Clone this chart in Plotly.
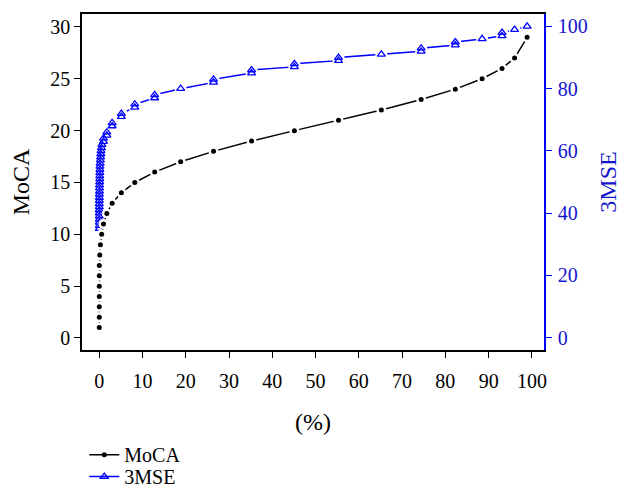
import plotly.graph_objects as go

# MoCA: score vs cumulative percent
moca_pct = [0.0, 0.0, 0.0, 0.0, 0.0, 0.0, 0.0, 0.1, 0.25, 0.55, 0.97, 1.74, 2.97,
            5.1, 8.2, 12.8, 18.8, 26.4, 35.2, 45.1, 55.3, 65.2, 74.4, 82.3, 88.5,
            93.1, 96.0, 98.9]
moca_score = [1, 2, 3, 4, 5, 6, 7, 8, 9, 10, 11, 12, 13, 14, 15, 16, 17, 18, 19,
              20, 21, 22, 23, 24, 25, 26, 27, 29]

# 3MSE: score vs cumulative percent
mse_pct = [0.0, 0.0, 0.0, 0.0, 0.0, 0.0, 0.0, 0.0, 0.0, 0.0, 0.02, 0.02, 0.05, 0.05,
           0.05, 0.08, 0.1, 0.1, 0.12, 0.15, 0.15, 0.2, 0.25, 0.3, 0.35, 0.4, 0.5, 0.6,
           0.97, 0.97, 1.74, 1.74, 2.97, 2.97, 5.1, 5.1, 8.2, 8.2, 12.8, 12.8, 18.8,
           26.4, 26.4, 35.2, 35.2, 45.1, 45.1, 55.3, 55.3, 65.2, 74.4, 74.4, 82.3,
           82.3, 88.5, 93.1, 93.1, 96.0, 98.9]
mse_score = [35, 36, 37, 38, 39, 40, 41, 42, 43, 44, 45, 46, 47, 48, 49, 50, 51, 52,
             53, 54, 55, 56, 57, 58, 59, 60, 61, 62, 63, 64, 65, 66, 68, 69, 71, 72,
             74, 75, 77, 78, 80, 82, 83, 85, 86, 87, 88, 89, 90, 91, 92, 93, 94, 95,
             96, 97, 98, 99, 100]

x_ticks = [0, 10, 20, 30, 40, 50, 60, 70, 80, 90, 100]
moca_ticks = [0, 5, 10, 15, 20, 25, 30]
mse_ticks = [0, 20, 40, 60, 80, 100]

BLUE = "#0000FF"
BLUE_TXT = "#1414CC"
FONT = "Liberation Serif"
FS = 20

fig = go.Figure()

# 3MSE on primary (right side) axis -> drawn below
fig.add_trace(go.Scatter(
    x=mse_pct, y=mse_score, name="3MSE", mode="lines+markers", yaxis="y",
    line=dict(color=BLUE, width=1.5), legend="legend2",
    marker=dict(symbol="triangle-up-open", size=7, color=BLUE, line=dict(width=1.3, color=BLUE))))
fig.add_trace(go.Scatter(
    x=mse_pct, y=mse_score, mode="markers", yaxis="y", showlegend=False, hoverinfo="skip",
    marker=dict(symbol="circle", size=12, color="white", line=dict(width=0))))
fig.add_trace(go.Scatter(
    x=mse_pct, y=mse_score, mode="markers", yaxis="y", showlegend=False,
    marker=dict(symbol="triangle-up-open", size=7, color=BLUE, line=dict(width=1.3, color=BLUE))))

# MoCA on overlaid left axis
fig.add_trace(go.Scatter(
    x=moca_pct, y=moca_score, name="MoCA", mode="lines+markers", yaxis="y2",
    line=dict(color="black", width=1.5), legend="legend",
    marker=dict(symbol="circle", size=5, color="black")))
fig.add_trace(go.Scatter(
    x=moca_pct, y=moca_score, mode="markers", yaxis="y2", showlegend=False, hoverinfo="skip",
    marker=dict(symbol="circle", size=10, color="white", line=dict(width=0))))
fig.add_trace(go.Scatter(
    x=moca_pct, y=moca_score, mode="markers", yaxis="y2", showlegend=False,
    marker=dict(symbol="circle", size=5, color="black")))

leg_common = dict(x=0.005, xanchor="left", yanchor="bottom", yref="container",
                  orientation="v", font=dict(size=FS, family=FONT),
                  bgcolor="rgba(0,0,0,0)", itemwidth=30, borderwidth=0)

fig.update_layout(
    width=632, height=496,
    margin=dict(l=82, r=88, t=14, b=146),
    paper_bgcolor="white", plot_bgcolor="white",
    font=dict(family=FONT, size=FS, color="black"),
    xaxis=dict(
        range=[-4.0, 102.8], tickvals=x_ticks, ticktext=[str(v) for v in x_ticks],
        showgrid=False, zeroline=False, showline=True, mirror=True, automargin=False,
        linecolor="black", linewidth=1.5, ticks="outside", ticklen=6, tickwidth=1,
        tickcolor="black", ticklabelstandoff=6,
        title=dict(text="(%)", standoff=24)),
    yaxis=dict(
        side="right", range=[-4.0, 104.0], tickvals=mse_ticks,
        ticktext=[str(v) for v in mse_ticks], automargin=False,
        showgrid=False, zeroline=False, showline=True, linecolor=BLUE, linewidth=1.5,
        ticks="outside", ticklen=6, tickwidth=1, tickcolor=BLUE, ticklabelstandoff=2,
        tickfont=dict(color=BLUE_TXT),
        title=dict(text="3MSE", font=dict(color=BLUE_TXT), standoff=12)),
    yaxis2=dict(
        overlaying="y", side="left", range=[-1.16, 31.25], tickvals=moca_ticks,
        ticktext=[str(v) for v in moca_ticks], automargin=False,
        showgrid=False, zeroline=False, showline=True, linecolor="black", linewidth=1.5,
        ticks="outside", ticklen=6, tickwidth=1, tickcolor="black",
        title=dict(text="MoCA", standoff=14)),
    legend=dict(y=0.044, **leg_common),
    legend2=dict(y=0.0, **leg_common),
    showlegend=True,
)

fig.write_html("out.html", config={"displayModeBar": False},
               post_script="document.body.style.margin='0';document.body.style.padding='0';")
